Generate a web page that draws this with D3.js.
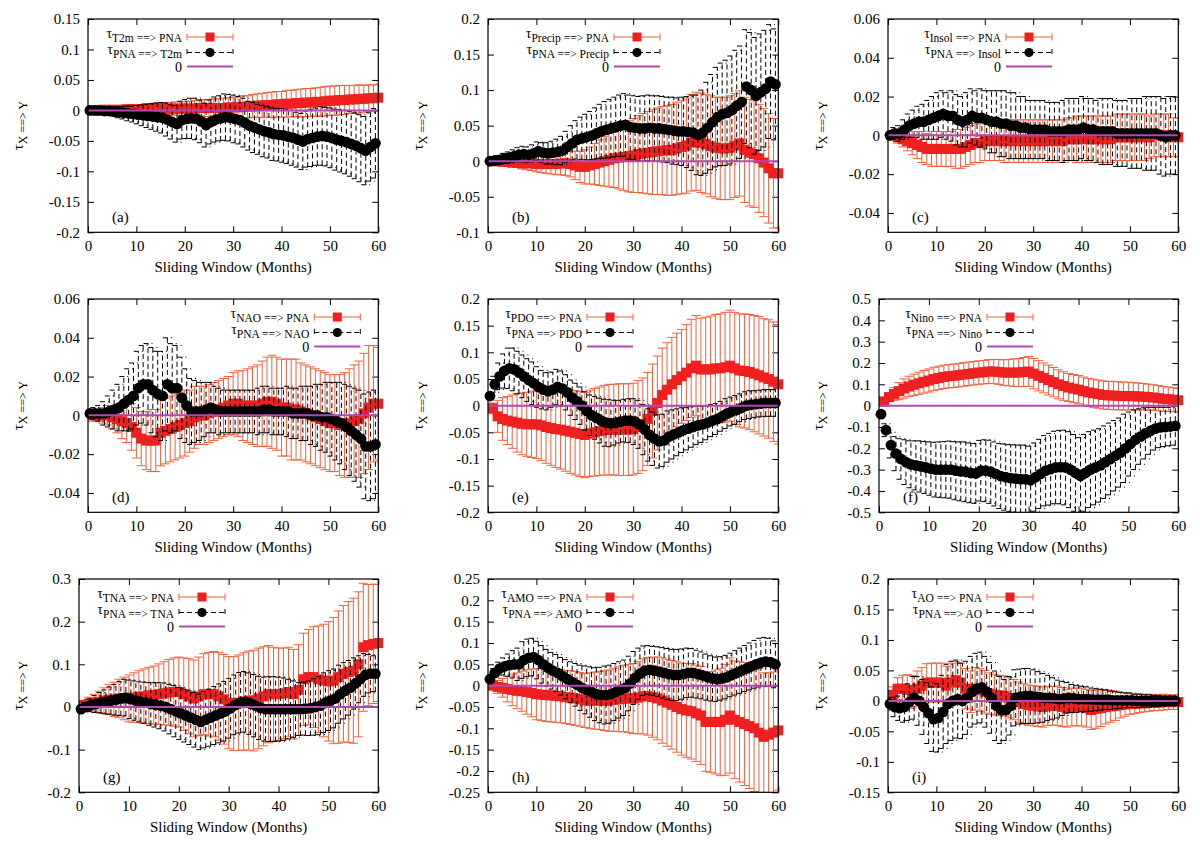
<!DOCTYPE html>
<html>
<head>
<meta charset="utf-8">
<script src="https://cdnjs.cloudflare.com/ajax/libs/d3/7.8.5/d3.min.js"></script>
<style>
  body { margin: 0; background: #fff; }
  svg text { font-family: "Liberation Serif", "DejaVu Serif", serif; }
</style>
</head>
<body>
<svg id="chart" width="1200" height="850" font-family="Liberation Serif, DejaVu Serif, serif"></svg>
<script>
// window length in months, one value per window
const months = d3.range(1, 61);
const xTicks = [0, 10, 20, 30, 40, 50, 60];

// (a) T2m
const t2mToPna = [0.000,0.000,0.001,0.001,0.001,0.001,0.001,0.002,0.002,0.002, 0.002,0.003,0.003,0.003,0.003,0.003,0.003,0.003,0.003,0.003, 0.003,0.003,0.004,0.004,0.004,0.004,0.004,0.004,0.005,0.005, 0.005,0.006,0.006,0.007,0.008,0.008,0.009,0.009,0.010,0.010, 0.011,0.011,0.012,0.012,0.013,0.013,0.014,0.014,0.015,0.016, 0.016,0.017,0.017,0.018,0.018,0.019,0.019,0.020,0.020,0.021];
const t2mToPnaErr = [.002,.003,.003,.004,.004,.005,.005,.006,.006,.007, .007,.008,.008,.009,.009,.010,.010,.011,.011,.012, .012,.013,.013,.014,.014,.015,.015,.016,.016,.017, .017,.018,.018,.019,.019,.020,.020,.021,.021,.021, .022,.022,.022,.023,.023,.023,.023,.024,.024,.024, .024,.024,.024,.023,.023,.023,.022,.022,.022,.022];
const pnaToT2m = [0,0,0,-0.001,-0.001,-0.002,-0.003,-0.004,-0.005,-0.006, -0.007,-0.008,-0.009,-0.010,-0.011,-0.012,-0.015,-0.019,-0.022,-0.016, -0.014,-0.013,-0.014,-0.018,-0.024,-0.019,-0.015,-0.013,-0.011,-0.012, -0.014,-0.016,-0.020,-0.025,-0.028,-0.031,-0.034,-0.036,-0.039,-0.040, -0.041,-0.043,-0.045,-0.048,-0.051,-0.047,-0.045,-0.043,-0.042,-0.043, -0.045,-0.048,-0.050,-0.052,-0.055,-0.058,-0.062,-0.066,-0.060,-0.054];
const pnaToT2mErr = [.002,.003,.004,.005,.006,.007,.009,.010,.012,.013, .015,.017,.019,.021,.023,.025,.027,.028,.030,.031, .032,.033,.034,.035,.036,.036,.037,.037,.038,.038, .039,.039,.040,.040,.041,.041,.042,.042,.043,.043, .044,.044,.045,.045,.046,.046,.047,.047,.048,.048, .049,.050,.051,.052,.053,.054,.055,.056,.056,.057];

// (b) Precip
const precipToPna = [0.000,0.000,-0.001,-0.001,-0.002,-0.002,-0.003,-0.003,-0.003,-0.004, -0.004,-0.004,-0.004,-0.004,-0.003,-0.003,-0.004,-0.006,-0.008,-0.008, -0.006,-0.004,-0.002,0.000,0.002,0.004,0.005,0.006,0.007,0.008, 0.010,0.011,0.012,0.013,0.014,0.015,0.015,0.016,0.018,0.020, 0.022,0.026,0.028,0.026,0.024,0.021,0.019,0.018,0.018,0.019, 0.022,0.025,0.016,0.012,0.010,0.004,-0.002,-0.010,-0.017,-0.017];
const precipToPnaErr = [.003,.004,.005,.006,.006,.007,.008,.009,.010,.011, .012,.013,.014,.015,.016,.017,.018,.020,.022,.024, .026,.029,.032,.035,.038,.041,.044,.047,.050,.052, .054,.056,.058,.060,.061,.062,.063,.064,.065,.066, .067,.068,.069,.070,.070,.071,.071,.072,.072,.073, .073,.074,.074,.075,.075,.076,.076,.077,.077,.077];
const pnaToPrecip = [0.000,0.001,0.002,0.004,0.005,0.007,0.009,0.010,0.009,0.011, 0.014,0.012,0.011,0.012,0.013,0.015,0.020,0.025,0.030,0.032, 0.034,0.036,0.039,0.042,0.044,0.046,0.048,0.050,0.051,0.048, 0.047,0.046,0.046,0.047,0.046,0.046,0.045,0.044,0.043,0.042, 0.042,0.041,0.040,0.037,0.040,0.047,0.055,0.062,0.066,0.068, 0.072,0.078,0.083,0.105,0.100,0.092,0.097,0.102,0.112,0.108];
const pnaToPrecipErr = [.003,.004,.006,.007,.008,.009,.010,.011,.011,.012, .013,.014,.015,.016,.018,.020,.022,.025,.027,.030, .032,.034,.036,.038,.040,.041,.042,.043,.044,.045, .045,.045,.046,.046,.046,.046,.046,.046,.047,.047, .048,.050,.053,.056,.060,.064,.067,.070,.072,.074, .076,.078,.079,.080,.081,.082,.082,.082,.080,.078];

// (c) Insol
const insolToPna = [0.000,-0.001,-0.002,-0.003,-0.004,-0.005,-0.006,-0.007,-0.007,-0.007, -0.007,-0.007,-0.007,-0.007,-0.007,-0.006,-0.005,-0.004,-0.004,-0.003, -0.003,-0.003,-0.003,-0.003,-0.003,-0.003,-0.003,-0.003,-0.003,-0.003, -0.003,-0.003,-0.003,-0.003,-0.003,-0.003,-0.002,-0.002,-0.002,-0.002, -0.002,-0.002,-0.002,-0.002,-0.002,-0.002,-0.001,-0.001,-0.001,-0.001, -0.001,-0.001,-0.001,-0.001,0.000,0.000,0.000,0.000,-0.001,-0.001];
const insolToPnaErr = [.002,.003,.004,.005,.006,.007,.008,.008,.009,.009, .009,.009,.009,.010,.010,.010,.010,.010,.010,.010, .010,.010,.010,.011,.011,.011,.011,.011,.011,.011, .011,.011,.011,.011,.011,.011,.011,.011,.012,.012, .012,.012,.012,.012,.012,.012,.012,.012,.012,.012, .012,.012,.012,.011,.011,.011,.011,.011,.010,.010];
const pnaToInsol = [0.000,0.001,0.001,0.003,0.005,0.006,0.007,0.007,0.008,0.009, 0.010,0.011,0.010,0.010,0.008,0.007,0.008,0.010,0.009,0.009, 0.008,0.007,0.007,0.006,0.006,0.005,0.005,0.004,0.004,0.003, 0.003,0.003,0.003,0.002,0.002,0.002,0.002,0.003,0.003,0.003, 0.004,0.003,0.003,0.002,0.002,0.002,0.002,0.001,0.001,0.001, 0.001,0.001,0.001,0.001,0.001,0.001,0.000,-0.001,0.000,0.000];
const pnaToInsolErr = [.002,.003,.004,.005,.006,.007,.008,.009,.010,.011, .012,.012,.012,.013,.013,.013,.014,.014,.014,.015, .015,.016,.016,.017,.017,.017,.017,.016,.016,.015, .015,.015,.015,.015,.015,.015,.016,.016,.016,.016, .016,.016,.016,.016,.017,.017,.017,.017,.017,.017, .018,.018,.018,.019,.019,.019,.020,.020,.020,.020];

// (d) NAO
const naoToPna = [0.000,0.000,0.000,0.000,-0.001,-0.002,-0.003,-0.004,-0.006,-0.009, -0.012,-0.013,-0.013,-0.013,-0.009,-0.008,-0.007,-0.006,-0.005,-0.004, -0.003,-0.001,0.000,0.000,0.001,0.002,0.003,0.004,0.005,0.006, 0.006,0.005,0.005,0.005,0.005,0.006,0.007,0.007,0.006,0.004, 0.004,0.003,0.003,0.002,0.001,0.000,-0.001,-0.002,-0.003,-0.004, -0.004,-0.005,-0.005,-0.004,-0.003,-0.002,0.001,0.004,0.006,0.006];
const naoToPnaErr = [.003,.003,.004,.005,.006,.007,.009,.010,.012,.013, .014,.015,.016,.016,.017,.017,.017,.017,.017,.017, .016,.016,.015,.015,.015,.015,.015,.015,.015,.016, .017,.018,.019,.020,.021,.022,.023,.024,.024,.025, .025,.026,.026,.025,.025,.025,.025,.025,.025,.025, .025,.026,.027,.028,.029,.030,.031,.032,.030,.029];
const pnaToNao = [0.001,0.001,0.001,0.001,0.002,0.003,0.004,0.006,0.008,0.010, 0.014,0.016,0.016,0.013,0.011,0.010,0.016,0.014,0.014,0.009, 0.005,0.002,0.002,0.002,0.003,0.004,0.003,0.002,0.002,0.002, 0.002,0.002,0.002,0.002,0.002,0.002,0.003,0.003,0.002,0.002, 0.002,0.002,0.001,0.001,0.001,0.001,0.000,0.000,-0.001,-0.001, -0.002,-0.003,-0.004,-0.006,-0.008,-0.010,-0.012,-0.016,-0.016,-0.015];
const pnaToNaoErr = [.002,.003,.004,.006,.008,.010,.012,.014,.016,.017, .019,.020,.021,.022,.022,.023,.024,.023,.022,.021, .019,.017,.016,.015,.014,.013,.012,.012,.011,.011, .011,.011,.011,.011,.011,.012,.012,.012,.012,.012, .012,.013,.013,.013,.014,.014,.015,.016,.017,.018, .019,.020,.021,.022,.023,.024,.025,.027,.028,.028];

// (e) PDO
const pdoToPna = [-0.005,-0.020,-0.025,-0.028,-0.030,-0.032,-0.034,-0.035,-0.035,-0.035, -0.037,-0.040,-0.042,-0.044,-0.045,-0.047,-0.049,-0.051,-0.053,-0.055, -0.052,-0.050,-0.048,-0.046,-0.045,-0.045,-0.045,-0.045,-0.045,-0.044, -0.040,-0.035,-0.025,-0.010,0.005,0.020,0.030,0.040,0.048,0.055, 0.062,0.070,0.075,0.068,0.068,0.068,0.070,0.070,0.072,0.075, 0.070,0.066,0.065,0.063,0.060,0.057,0.053,0.050,0.045,0.040];
const pdoToPnaErr = [.010,.030,.040,.045,.050,.055,.058,.060,.062,.064, .066,.068,.070,.072,.074,.076,.078,.079,.080,.080, .081,.082,.083,.084,.085,.085,.086,.086,.086,.086, .087,.087,.087,.088,.088,.088,.088,.088,.088,.088, .090,.092,.094,.096,.098,.100,.101,.102,.103,.104, .105,.106,.107,.108,.109,.110,.110,.111,.112,.112];
const pnaToPdo = [0.018,0.040,0.055,0.065,0.070,0.068,0.062,0.055,0.048,0.042, 0.035,0.030,0.027,0.030,0.035,0.032,0.025,0.015,0.008,0.000, -0.010,-0.018,-0.023,-0.028,-0.032,-0.033,-0.032,-0.030,-0.028,-0.028, -0.030,-0.035,-0.045,-0.055,-0.062,-0.067,-0.065,-0.058,-0.054,-0.050, -0.046,-0.043,-0.040,-0.037,-0.035,-0.032,-0.028,-0.025,-0.020,-0.015, -0.011,-0.008,-0.004,0.000,0.002,0.003,0.004,0.005,0.005,0.005];
const pnaToPdoErr = [.005,.015,.025,.032,.038,.040,.040,.040,.040,.040, .038,.036,.035,.033,.033,.033,.033,.033,.034,.035, .036,.038,.040,.042,.044,.044,.042,.040,.040,.041, .043,.045,.047,.049,.050,.050,.049,.048,.046,.044, .042,.040,.038,.036,.034,.032,.030,.029,.028,.028, .027,.027,.026,.026,.026,.025,.025,.025,.025,.025];

// (f) Nino
const ninoToPna = [0.020,0.040,0.055,0.068,0.080,0.090,0.098,0.105,0.112,0.118, 0.125,0.130,0.135,0.138,0.140,0.143,0.146,0.149,0.152,0.155, 0.157,0.160,0.160,0.158,0.155,0.155,0.155,0.155,0.158,0.160, 0.150,0.140,0.130,0.120,0.110,0.100,0.092,0.085,0.080,0.075, 0.068,0.062,0.058,0.054,0.050,0.048,0.047,0.046,0.045,0.045, 0.044,0.043,0.042,0.040,0.038,0.035,0.032,0.030,0.028,0.025];
const ninoToPnaErr = [.010,.020,.030,.040,.045,.048,.050,.052,.053,.054, .055,.055,.055,.055,.055,.055,.055,.055,.055,.055, .055,.056,.057,.058,.060,.062,.064,.066,.068,.070, .071,.071,.070,.070,.069,.068,.067,.066,.066,.066, .066,.066,.066,.066,.066,.066,.066,.066,.065,.065, .064,.063,.062,.061,.060,.059,.058,.057,.056,.055];
const pnaToNino = [-0.040,-0.115,-0.185,-0.225,-0.250,-0.265,-0.275,-0.280,-0.285,-0.290, -0.295,-0.300,-0.300,-0.300,-0.300,-0.305,-0.308,-0.310,-0.315,-0.318, -0.305,-0.305,-0.310,-0.320,-0.330,-0.335,-0.340,-0.342,-0.345,-0.345, -0.350,-0.335,-0.320,-0.305,-0.298,-0.290,-0.288,-0.290,-0.300,-0.315, -0.330,-0.315,-0.300,-0.290,-0.280,-0.265,-0.250,-0.235,-0.220,-0.200, -0.180,-0.160,-0.145,-0.130,-0.118,-0.108,-0.102,-0.100,-0.098,-0.095];
const pnaToNinoErr = [.010,.030,.060,.080,.095,.105,.110,.115,.120,.122, .125,.128,.130,.132,.134,.136,.138,.140,.140,.140, .142,.145,.148,.150,.152,.155,.157,.158,.160,.160, .160,.160,.162,.165,.168,.170,.172,.175,.178,.180, .180,.180,.178,.175,.172,.170,.168,.165,.162,.160, .150,.140,.130,.120,.110,.100,.095,.092,.090,.090];

// (g) TNA
const tnaToPna = [0.005,0.008,0.010,0.012,0.015,0.017,0.018,0.020,0.020,0.020, 0.022,0.024,0.025,0.027,0.028,0.030,0.032,0.034,0.035,0.035, 0.030,0.025,0.020,0.025,0.030,0.030,0.030,0.025,0.018,0.010, 0.008,0.010,0.013,0.015,0.015,0.020,0.025,0.030,0.030,0.030, 0.032,0.035,0.030,0.040,0.065,0.070,0.070,0.065,0.062,0.060, 0.062,0.070,0.078,0.082,0.085,0.100,0.140,0.145,0.148,0.150];
const tnaToPnaErr = [.010,.015,.020,.025,.030,.035,.040,.045,.050,.055, .058,.061,.064,.066,.068,.071,.074,.077,.080,.082, .085,.088,.090,.092,.095,.098,.100,.103,.105,.108, .110,.112,.114,.116,.118,.118,.116,.114,.110,.108, .106,.105,.105,.106,.108,.112,.118,.125,.132,.140, .148,.155,.160,.165,.170,.170,.150,.142,.140,.137];
const pnaToTna = [-0.005,0.000,0.004,0.007,0.010,0.012,0.015,0.017,0.020,0.022, 0.018,0.015,0.012,0.010,0.007,0.005,0.003,0.000,-0.005,-0.010, -0.015,-0.020,-0.025,-0.030,-0.035,-0.030,-0.025,-0.020,-0.015,-0.010, -0.003,0.005,0.010,0.012,0.008,0.003,-0.002,-0.005,-0.005,-0.005, -0.005,-0.005,-0.005,-0.005,-0.005,-0.004,-0.003,0.000,0.003,0.010, 0.015,0.020,0.030,0.038,0.045,0.055,0.065,0.075,0.078,0.078];
const pnaToTnaErr = [.005,.010,.015,.020,.024,.028,.032,.036,.040,.043, .045,.046,.047,.048,.050,.052,.054,.056,.058,.060, .061,.062,.063,.064,.065,.066,.067,.068,.069,.070, .070,.070,.071,.071,.072,.073,.074,.075,.076,.076, .075,.073,.070,.066,.062,.062,.064,.066,.068,.070, .070,.069,.068,.066,.064,.060,.055,.050,.045,.042];

// (h) AMO
const amoToPna = [0.000,-0.003,-0.005,-0.008,-0.010,-0.012,-0.013,-0.015,-0.017,-0.020, -0.021,-0.022,-0.023,-0.024,-0.025,-0.027,-0.028,-0.030,-0.032,-0.035, -0.035,-0.035,-0.035,-0.035,-0.035,-0.033,-0.032,-0.030,-0.030,-0.030, -0.028,-0.025,-0.025,-0.027,-0.030,-0.035,-0.040,-0.045,-0.050,-0.055, -0.058,-0.060,-0.065,-0.070,-0.085,-0.085,-0.085,-0.085,-0.080,-0.070, -0.080,-0.085,-0.090,-0.095,-0.100,-0.110,-0.120,-0.115,-0.110,-0.105];
const amoToPnaErr = [.008,.015,.022,.030,.037,.042,.047,.052,.056,.060, .061,.062,.062,.062,.062,.062,.063,.063,.063,.063, .065,.067,.068,.070,.072,.074,.076,.078,.080,.082, .085,.088,.091,.094,.097,.100,.102,.104,.106,.108, .110,.112,.113,.115,.116,.118,.122,.126,.130,.135, .138,.141,.144,.146,.148,.150,.150,.145,.142,.140];
const pnaToAmo = [0.015,0.030,0.040,0.045,0.048,0.050,0.050,0.060,0.065,0.067, 0.060,0.050,0.042,0.035,0.030,0.022,0.015,0.008,0.002,-0.005, -0.010,-0.015,-0.020,-0.022,-0.022,-0.020,-0.015,-0.010,-0.005,0.005, 0.018,0.028,0.035,0.037,0.035,0.033,0.030,0.027,0.025,0.025, 0.027,0.030,0.030,0.027,0.024,0.020,0.017,0.015,0.017,0.020, 0.025,0.030,0.035,0.040,0.045,0.050,0.054,0.056,0.055,0.050];
const pnaToAmoErr = [.005,.010,.015,.020,.026,.032,.038,.043,.044,.044, .044,.044,.043,.043,.043,.044,.046,.048,.050,.053, .056,.059,.062,.065,.068,.068,.067,.066,.065,.064, .062,.060,.058,.057,.057,.058,.059,.060,.060,.060, .059,.058,.057,.056,.055,.054,.053,.052,.051,.051, .051,.052,.053,.054,.055,.056,.057,.057,.056,.055];

// (i) AO
const aoToPna = [0.010,0.020,0.020,0.018,0.015,0.020,0.025,0.030,0.030,0.030, 0.030,0.025,0.030,0.034,0.030,0.020,0.015,0.020,0.018,0.015, 0.012,0.010,0.009,0.008,0.005,0.002,-0.002,-0.005,-0.007,-0.008, -0.009,-0.010,-0.008,-0.008,-0.008,-0.010,-0.012,-0.010,-0.010,-0.010, -0.012,-0.015,-0.013,-0.012,-0.010,-0.009,-0.008,-0.007,-0.006,-0.005, -0.005,-0.004,-0.004,-0.003,-0.003,-0.003,-0.002,-0.002,-0.002,-0.002];
const aoToPnaErr = [.013,.018,.022,.025,.027,.029,.030,.031,.032,.032, .032,.032,.032,.031,.032,.033,.034,.035,.035,.035, .034,.033,.033,.033,.033,.033,.033,.033,.033,.033, .033,.033,.032,.032,.032,.032,.031,.031,.031,.031, .031,.032,.032,.030,.028,.026,.024,.021,.019,.017, .016,.015,.014,.014,.013,.013,.013,.012,.012,.012];
const pnaToAo = [-0.005,-0.010,-0.012,-0.010,-0.002,0.005,0.000,-0.010,-0.020,-0.030, -0.028,-0.018,-0.005,0.000,0.003,0.000,0.005,0.015,0.020,0.022, 0.015,0.005,-0.008,-0.015,-0.015,-0.008,0.005,0.007,0.008,0.008, 0.007,0.006,0.005,0.005,0.004,0.003,0.004,0.005,0.004,0.003, 0.003,0.003,0.002,0.002,0.002,0.002,0.001,0.001,0.001,0.001, 0.001,0.000,0.000,0.000,0.000,0.000,0.000,0.000,0.000,0.000];
const pnaToAoErr = [.010,.016,.020,.025,.030,.035,.040,.045,.050,.053, .056,.060,.065,.065,.064,.062,.060,.058,.058,.058, .058,.058,.057,.055,.050,.048,.046,.045,.045,.045, .044,.042,.040,.037,.034,.031,.028,.025,.023,.022, .021,.020,.019,.018,.017,.016,.015,.014,.013,.012, .012,.011,.011,.010,.010,.009,.009,.008,.008,.008];

// y ticks per panel
const yTicksA = [-0.2, -0.15, -0.1, -0.05, 0, 0.05, 0.1, 0.15];
const yTicksB = [-0.1, -0.05, 0, 0.05, 0.1, 0.15, 0.2];
const yTicksC = [-0.04, -0.02, 0, 0.02, 0.04, 0.06];
const yTicksE = [-0.2, -0.15, -0.1, -0.05, 0, 0.05, 0.1, 0.15, 0.2];
const yTicksF = [-0.5, -0.4, -0.3, -0.2, -0.1, 0, 0.1, 0.2, 0.3, 0.4, 0.5];
const yTicksG = [-0.2, -0.1, 0, 0.1, 0.2, 0.3];
const yTicksH = [-0.25, -0.2, -0.15, -0.1, -0.05, 0, 0.05, 0.1, 0.15, 0.2, 0.25];
const yTicksI = [-0.15, -0.1, -0.05, 0, 0.05, 0.1, 0.15, 0.2];

const panels = [
  { tag: "(a)", name: "T2m",    fwd: t2mToPna,    fwdErr: t2mToPnaErr,    back: pnaToT2m,    backErr: pnaToT2mErr,    domain: [-0.2, 0.15], ticks: yTicksA },
  { tag: "(b)", name: "Precip", fwd: precipToPna, fwdErr: precipToPnaErr, back: pnaToPrecip, backErr: pnaToPrecipErr, domain: [-0.1, 0.2],  ticks: yTicksB },
  { tag: "(c)", name: "Insol",  fwd: insolToPna,  fwdErr: insolToPnaErr,  back: pnaToInsol,  backErr: pnaToInsolErr,  domain: [-0.05, 0.06], ticks: yTicksC },
  { tag: "(d)", name: "NAO",    fwd: naoToPna,    fwdErr: naoToPnaErr,    back: pnaToNao,    backErr: pnaToNaoErr,    domain: [-0.05, 0.06], ticks: yTicksC },
  { tag: "(e)", name: "PDO",    fwd: pdoToPna,    fwdErr: pdoToPnaErr,    back: pnaToPdo,    backErr: pnaToPdoErr,    domain: [-0.2, 0.2],  ticks: yTicksE },
  { tag: "(f)", name: "Nino",   fwd: ninoToPna,   fwdErr: ninoToPnaErr,   back: pnaToNino,   backErr: pnaToNinoErr,   domain: [-0.5, 0.5],  ticks: yTicksF },
  { tag: "(g)", name: "TNA",    fwd: tnaToPna,    fwdErr: tnaToPnaErr,    back: pnaToTna,    backErr: pnaToTnaErr,    domain: [-0.2, 0.3],  ticks: yTicksG },
  { tag: "(h)", name: "AMO",    fwd: amoToPna,    fwdErr: amoToPnaErr,    back: pnaToAmo,    backErr: pnaToAmoErr,    domain: [-0.25, 0.25], ticks: yTicksH },
  { tag: "(i)", name: "AO",     fwd: aoToPna,     fwdErr: aoToPnaErr,     back: pnaToAo,     backErr: pnaToAoErr,     domain: [-0.15, 0.2], ticks: yTicksI }
];

// layout: left offset inside the column, key sample end (from left, or from right if keyRight)
const layout = [
  { left: 88, key: 145 }, { left: 88, key: 172 }, { left: 88, key: 164 },
  { left: 88, key: 18, keyRight: true }, { left: 88, key: 145 }, { left: 79, key: 154 },
  { left: 79, key: 146 }, { left: 88, key: 145 }, { left: 88, key: 145 }
];
const rowTop = [19, 299, 579];
const plotH = 213.3;

const RED = "#ee2020", RED_BAR = "#f2603c", PURPLE = "#b04ab0";
const FONT = '"Liberation Serif", "DejaVu Serif", serif';
const fmt = (d) => String(+d.toFixed(3));

const svg = d3.select("#chart");

panels.forEach((p, k) => {
  const col = k % 3, row = Math.floor(k / 3);
  const lay = layout[k];
  const x0 = col * 400;
  const left = x0 + lay.left, right = x0 + 378.3;
  const top = rowTop[row], bottom = top + plotH;

  const x = d3.scaleLinear().domain([0, 60]).range([left, right]);
  const y = d3.scaleLinear().domain(p.domain).range([bottom, top]);

  const g = svg.append("g");
  const clipId = "clip" + k;
  g.append("clipPath").attr("id", clipId)
    .append("rect").attr("x", left).attr("y", top).attr("width", right - left).attr("height", bottom - top);

  // axes with inward ticks, mirrored on all sides
  const axes = [
    [d3.axisLeft(y).tickValues(p.ticks).tickFormat(fmt), left, 0],
    [d3.axisRight(y).tickValues(p.ticks).tickFormat(""), right, 0],
    [d3.axisBottom(x).tickValues(xTicks).tickFormat(d3.format("d")), 0, bottom],
    [d3.axisTop(x).tickValues(xTicks).tickFormat(""), 0, top]
  ];
  axes.forEach(([ax, tx, ty]) => {
    const a = g.append("g")
      .attr("transform", "translate(" + tx + "," + ty + ")")
      .call(ax.tickSizeInner(-6).tickSizeOuter(0).tickPadding(8))
      .attr("font-family", FONT);
    a.select(".domain").remove();
    a.selectAll("line").attr("stroke", "#000");
    a.selectAll("text").attr("font-size", 15).attr("fill", "#000");
  });

  const plot = g.append("g");

  function errorBars(vals, errs, dx, color, dash) {
    const cap = 4.5;
    const gg = plot.append("g").attr("clip-path", "url(#" + clipId + ")")
      .attr("stroke", color).attr("stroke-width", 1)
      .attr("stroke-dasharray", dash).attr("fill", "none");
    vals.forEach((v, i) => {
      const xx = x(months[i] + dx);
      const lo = y(v - errs[i]), hi = y(v + errs[i]);
      gg.append("path")
        .attr("d", "M" + xx + "," + lo + "V" + hi + "M" + (xx - cap) + "," + hi + "H" + (xx + cap) +
          "M" + (xx - cap) + "," + lo + "H" + (xx + cap));
    });
  }

  // X ==> PNA (red squares)
  errorBars(p.fwd, p.fwdErr, 0, RED_BAR, null);
  plot.append("g").selectAll("rect").data(p.fwd).join("rect")
    .attr("x", (d, i) => x(months[i]) - 5)
    .attr("y", (d) => y(d) - 5)
    .attr("width", 10).attr("height", 10)
    .attr("fill", RED);

  // PNA ==> X (black circles)
  errorBars(p.back, p.backErr, -0.6, "#000", "5,3");
  plot.append("g").selectAll("circle").data(p.back).join("circle")
    .attr("cx", (d, i) => x(months[i] - 0.6))
    .attr("cy", (d) => y(d))
    .attr("r", 5.4)
    .attr("fill", "#000");

  // zero line
  g.append("line").attr("x1", left).attr("x2", right).attr("y1", y(0)).attr("y2", y(0))
    .attr("stroke", PURPLE).attr("stroke-width", 2);

  // frame
  g.append("rect").attr("x", left).attr("y", top).attr("width", right - left).attr("height", bottom - top)
    .attr("fill", "none").attr("stroke", "#000").attr("stroke-width", 1.2);

  // panel tag
  g.append("text").attr("x", left + 24).attr("y", bottom - 10).attr("font-size", 15).text(p.tag);

  // axis titles
  g.append("text").attr("x", (left + right) / 2).attr("y", bottom + 40)
    .attr("text-anchor", "middle").attr("font-size", 15).text("Sliding Window (Months)");
  const yl = g.append("text")
    .attr("transform", "translate(" + (x0 + 23) + "," + ((top + bottom) / 2) + ") rotate(-90)")
    .attr("text-anchor", "middle").attr("font-size", 15);
  yl.append("tspan").text("τ");
  yl.append("tspan").attr("font-size", 12).attr("dy", 4).text("X ==> Y");

  // key
  const sEnd = lay.keyRight ? right - lay.key : left + lay.key;
  const sStart = sEnd - 46, sMid = sEnd - 23;
  const rows = [top + 18, top + 33.5, top + 47.5];
  const labels = [p.name + " ==> PNA", "PNA ==> " + p.name, null];
  const key = g.append("g");
  rows.forEach((ry, r) => {
    const t = key.append("text").attr("x", sStart - 5).attr("text-anchor", "end").attr("font-size", 14);
    if (labels[r]) {
      t.attr("y", ry + 1);
      t.append("tspan").text("τ");
      t.append("tspan").attr("font-size", 11.5).attr("dy", 4).text(labels[r]);
    } else {
      t.attr("y", ry + 5).text("0");
    }
  });
  // red sample
  key.append("path").attr("d", "M" + sStart + "," + rows[0] + "H" + sEnd +
      "M" + sStart + "," + (rows[0] - 3.5) + "V" + (rows[0] + 3.5) +
      "M" + sEnd + "," + (rows[0] - 3.5) + "V" + (rows[0] + 3.5))
    .attr("stroke", RED_BAR).attr("stroke-width", 1).attr("fill", "none");
  key.append("rect").attr("x", sMid - 4.5).attr("y", rows[0] - 4.5).attr("width", 9).attr("height", 9).attr("fill", RED);
  // black sample
  key.append("path").attr("d", "M" + sStart + "," + rows[1] + "H" + sEnd +
      "M" + sStart + "," + (rows[1] - 3.5) + "V" + (rows[1] + 3.5) +
      "M" + sEnd + "," + (rows[1] - 3.5) + "V" + (rows[1] + 3.5))
    .attr("stroke", "#000").attr("stroke-width", 1).attr("stroke-dasharray", "5,3").attr("fill", "none");
  key.append("circle").attr("cx", sMid).attr("cy", rows[1]).attr("r", 4.6).attr("fill", "#000");
  // zero sample
  key.append("line").attr("x1", sStart).attr("x2", sEnd).attr("y1", rows[2]).attr("y2", rows[2])
    .attr("stroke", PURPLE).attr("stroke-width", 2);
});
</script>
</body>
</html>
